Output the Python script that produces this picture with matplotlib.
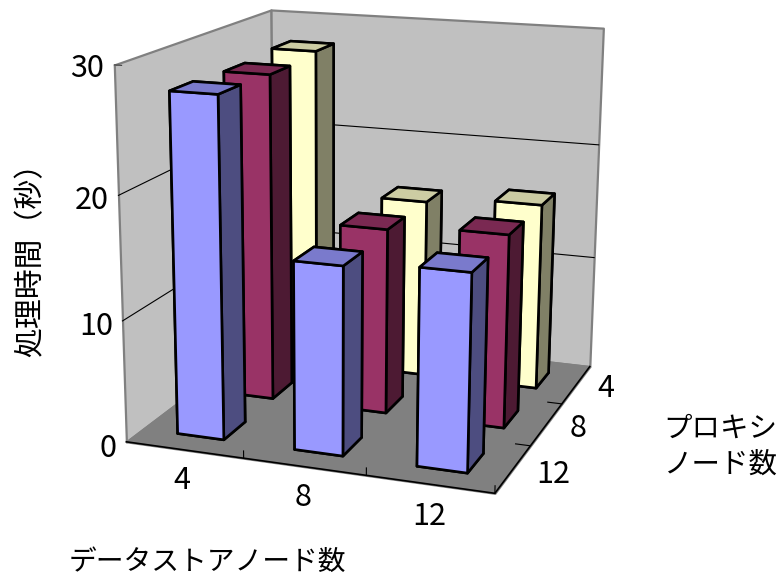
import numpy as np
import matplotlib
matplotlib.use('Agg')
import matplotlib.pyplot as plt
from mpl_toolkits.mplot3d.art3d import Poly3DCollection

plt.rcParams['font.family'] = ['Noto Sans CJK JP', 'DejaVu Sans']

store_nodes = ['4', '8', '12']
proxy_nodes = ['4', '8', '12']
z_ticks = [0, 10, 20, 30]

# processing time in seconds, one list per proxy node count
time_proxy4 = [27.8, 15.5, 16.1]
time_proxy8 = [27.5, 15.6, 16.1]
time_proxy12 = [27.7, 15.3, 15.8]

# front/side/top colours of the bars
blue = ('#9999ff', '#4d4d80', '#7a7acc')
red = ('#993366', '#4d1a33', '#7a2952')
yellow = ('#ffffcc', '#808066', '#cccca3')

W, H = 779, 579
fig = plt.figure(figsize=(W / 100, H / 100), dpi=100)
# 3d axes are forced square, so make the square as wide as the figure
ax = fig.add_axes([0, (1 - W / H) / 2, 1, W / H], projection='3d', computed_zorder=False)
ax.set_axis_off()
ax.set_xlim(0, 3)
ax.set_ylim(0, 3)
ax.set_zlim(0, 30)
ax.set_xticks([])
ax.set_yticks([])
ax.set_zticks([])
ax.set_autoscale_on(False)
ax.apply_aspect()


def fit_camera(world, pixels):
    # solve the 3x4 camera matrix from box corners and their place on the figure
    rows = []
    for (x, y, z), (px, py) in zip(world, pixels):
        X = [x, y, z / 10, 1]
        u, v = px / 100, py / 100
        rows.append(X + [0, 0, 0, 0] + [-u * c for c in X])
        rows.append([0, 0, 0, 0] + X + [-v * c for c in X])
    P = np.linalg.svd(np.array(rows))[2][-1].reshape(3, 4)
    P[:, 2] /= 10
    P[:2] *= 100
    if P[2] @ np.array([1.5, 1.5, 15, 1]) < 0:
        P = -P
    # figure pixels (y down) -> view coordinates of the axes
    inv = ax.transData.inverted()
    o = inv.transform((0, H))
    e = inv.transform((W, 0))
    sx, sy = (e[0] - o[0]) / W, (e[1] - o[1]) / H
    u_row = sx * P[0] + o[0] * P[2]
    v_row = sy * P[1] + o[1] * P[2]
    # depth is negative and grows with distance, as in the stock perspective matrix
    depth_row = np.array([0, 0, 0, -1.0])
    return np.array([u_row, v_row, depth_row, P[2]])


box = [(0, 0, 30), (0, 3, 30), (3, 3, 30), (0, 0, 0), (0, 3, 0), (3, 3, 0), (3, 0, 0)]
box_px = [(113.5, 65), (272, 10), (603, 28), (127, 442), (273, 330), (590, 367), (495, 493)]
camera = fit_camera(box, box_px)
ax.get_proj = lambda: camera


def quad(pts, color, edge, z):
    p = Poly3DCollection([pts], facecolors=color, edgecolors=edge, linewidths=1.6, zorder=z)
    ax.add_collection3d(p)


# walls and floor
quad([(0, 0, 0), (0, 3, 0), (0, 3, 30), (0, 0, 30)], '#c0c0c0', '#808080', 0)
quad([(0, 3, 0), (3, 3, 0), (3, 3, 30), (0, 3, 30)], '#c0c0c0', '#808080', 0)
quad([(0, 0, 0), (3, 0, 0), (3, 3, 0), (0, 3, 0)], '#808080', '#808080', 0)

for v in z_ticks[1:-1]:
    ax.plot([0, 0, 3], [0, 3, 3], [v, v, v], color='black', lw=0.8, zorder=1)
ax.plot([0, 0.06], [0, 0], [30, 30], color='#404040', lw=0.8, zorder=1)

# front edges of the floor with their ticks
ax.plot([0, 3, 3], [0, 0, 3], [0, 0, 0], color='black', lw=1.2, zorder=1)
for t in [1, 2, 3]:
    ax.plot([t, t], [0, 0], [0, 0.6], color='black', lw=0.8, zorder=1)
for t in [1, 2]:
    ax.plot([3, 2.88], [t, t], [0, 0], color='black', lw=0.8, zorder=1)

# back row first so the nearer bars cover it
rows = [(2, time_proxy4, yellow), (1, time_proxy8, red), (0, time_proxy12, blue)]
zo = 2
for j, values, (front, side, top) in rows:
    for i, h in enumerate(values):
        # bar3d face order: bottom, top, front, back, left, right
        ax.bar3d(i + 0.3, j + 0.3, 0, 0.4, 0.42, h, color=[side, top, front, side, side, side],
                 edgecolor='black', linewidth=1.9, shade=False, zorder=zo)
        zo += 1

for v in z_ticks:
    ax.text(0, -0.16, v, str(v), fontsize=22, ha='right', va='center', zorder=50)
for x, lab in zip([0.74, 1.71, 2.68], store_nodes):
    ax.text(x, -0.56, 0, lab, fontsize=22, ha='center', va='center', zorder=50)
for x, j, lab in zip([3.26, 3.26, 3.31], [2, 1, 0], proxy_nodes):
    ax.text(x, j + 0.5, 0, lab, fontsize=22, ha='center', va='center', zorder=50)

fig.text(31 / W, 1 - 252 / H, '処理時間（秒）', rotation=90, fontsize=21.5, ha='center', va='center')
fig.text(207 / W, 1 - 562 / H, 'データストアノード数', fontsize=20, ha='center', va='center')
fig.text(720 / W, 1 - 447 / H, 'プロキシ\nノード数', fontsize=20.5, ha='center', va='center', linespacing=1.25)

fig.savefig('out.png', dpi=100)
